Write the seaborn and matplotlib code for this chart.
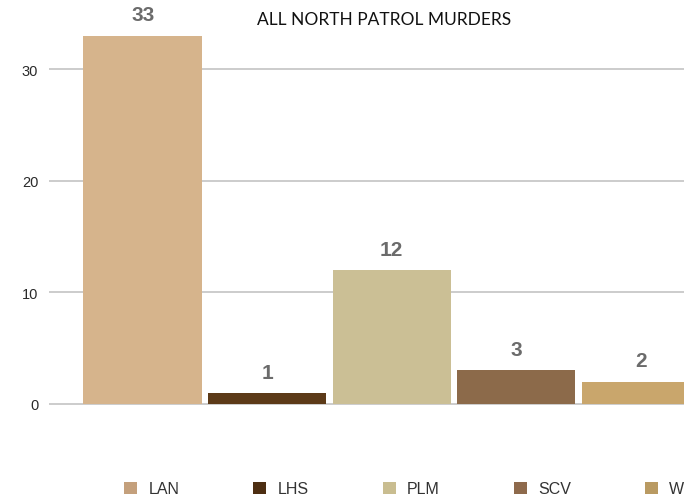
import matplotlib
matplotlib.use("Agg")
import matplotlib.pyplot as plt
from matplotlib.patches import Patch
import seaborn as sns
import pandas as pd

stations = ["LAN", "LHS", "PLM", "SCV", "W"]
murders = [33, 1, 12, 3, 2]
bar_colors = ["#D6B48C", "#5C3A18", "#CBBF95", "#8C6A4A", "#C9A66C"]
legend_colors = ["#C4A07C", "#4D2E12", "#C9BD90", "#8E6A4C", "#B99A62"]
y_ticks = [0, 10, 20, 30]


def make_chart():
    sns.set_style("white")
    plt.rcParams["font.family"] = ["Liberation Sans", "DejaVu Sans"]

    df = pd.DataFrame({"station": stations, "murders": murders})

    fig = plt.figure(figsize=(6.84, 5.02), dpi=100)
    ax = fig.add_axes([0.072, 0.171, 0.974, 0.823])

    sns.barplot(data=df, x="station", y="murders", hue="station",
                palette=bar_colors, width=0.95, saturation=1, legend=False,
                ax=ax, edgecolor="none", zorder=3)

    ax.set_xlim(-0.75, 4.6)
    ax.set_ylim(-1, 36)
    ax.set_yticks(y_ticks)
    ax.set_yticklabels([str(t) for t in y_ticks], fontsize=10.5, color="#2a2a2a")
    ax.tick_params(axis="y", length=0, pad=8)
    ax.set_xticks([])
    ax.set_xlabel("")
    ax.set_ylabel("")
    ax.grid(axis="y", color="#c8c8c8", linewidth=1.3, zorder=0)
    for s in ax.spines.values():
        s.set_visible(False)

    for p, v in zip(ax.patches, murders):
        ax.text(p.get_x() + p.get_width() / 2, p.get_height() + 1.0, str(v),
                ha="center", va="bottom", fontsize=15, fontweight="bold",
                color="#6b6b6b")

    fig.text(384 / 684, 1 - 20 / 502, "ALL NORTH PATROL MURDERS",
             ha="center", va="center", fontsize=12.5, family="Lato",
             color="#111111")

    handles = [Patch(facecolor=c, edgecolor="none") for c in legend_colors]
    fig.legend(handles, stations, loc="center left",
               bbox_to_anchor=(110 / 684, 1 - 490 / 502), ncol=5,
               frameon=False, fontsize=11.5, handlelength=0.8,
               handleheight=0.8, handletextpad=0.7, columnspacing=4.65,
               labelcolor="#333333")

    fig.savefig("out.png", dpi=100)


if __name__ == "__main__":
    make_chart()
